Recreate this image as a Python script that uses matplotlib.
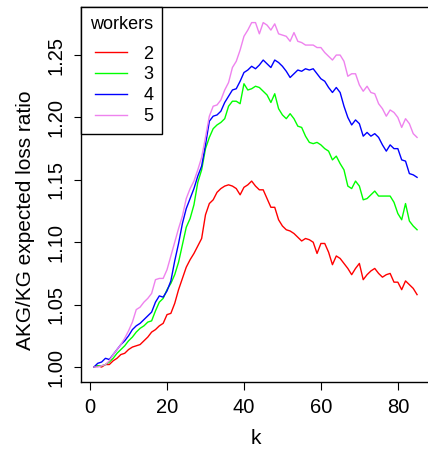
import matplotlib
matplotlib.use("Agg")
import matplotlib.pyplot as plt
import numpy as np

plt.rcParams['font.family'] = ['Liberation Sans', 'DejaVu Sans']

k = list(range(1, 86))

w2 = [1.000, 1.001, 1.000, 1.002, 1.002, 1.005, 1.007, 1.010, 1.011, 1.014,
      1.016, 1.017, 1.018, 1.021, 1.024, 1.028, 1.030, 1.033, 1.035, 1.042,
      1.043, 1.051, 1.062, 1.071, 1.080, 1.086, 1.091, 1.097, 1.103, 1.122,
      1.131, 1.134, 1.140, 1.143, 1.145, 1.146, 1.145, 1.143, 1.138, 1.144,
      1.146, 1.149, 1.145, 1.142, 1.142, 1.135, 1.128, 1.128, 1.118, 1.113,
      1.110, 1.109, 1.107, 1.104, 1.101, 1.103, 1.102, 1.100, 1.091, 1.099,
      1.099, 1.092, 1.082, 1.089, 1.087, 1.083, 1.079, 1.074, 1.079, 1.083,
      1.070, 1.074, 1.077, 1.079, 1.075, 1.072, 1.074, 1.075, 1.068, 1.068,
      1.062, 1.069, 1.066, 1.063, 1.058]

w3 = [1.000, 1.001, 1.001, 1.002, 1.004, 1.007, 1.011, 1.014, 1.017, 1.021,
      1.024, 1.028, 1.031, 1.033, 1.036, 1.037, 1.045, 1.052, 1.055, 1.062,
      1.067, 1.074, 1.084, 1.098, 1.112, 1.119, 1.130, 1.148, 1.158, 1.175,
      1.184, 1.191, 1.194, 1.196, 1.199, 1.209, 1.213, 1.213, 1.211, 1.227,
      1.222, 1.223, 1.225, 1.224, 1.221, 1.218, 1.212, 1.219, 1.207, 1.202,
      1.199, 1.203, 1.199, 1.193, 1.192, 1.185, 1.180, 1.179, 1.180, 1.178,
      1.175, 1.173, 1.166, 1.169, 1.163, 1.158, 1.145, 1.143, 1.149, 1.145,
      1.134, 1.135, 1.138, 1.141, 1.137, 1.137, 1.137, 1.137, 1.132, 1.123,
      1.118, 1.131, 1.117, 1.113, 1.110]

w4 = [1.000, 1.003, 1.004, 1.007, 1.006, 1.010, 1.014, 1.018, 1.021, 1.025,
      1.030, 1.033, 1.035, 1.038, 1.041, 1.044, 1.052, 1.057, 1.056, 1.061,
      1.069, 1.085, 1.099, 1.115, 1.127, 1.135, 1.143, 1.153, 1.161, 1.178,
      1.197, 1.201, 1.202, 1.205, 1.212, 1.217, 1.222, 1.223, 1.229, 1.236,
      1.238, 1.241, 1.239, 1.242, 1.246, 1.243, 1.240, 1.246, 1.244, 1.241,
      1.237, 1.232, 1.235, 1.238, 1.237, 1.239, 1.238, 1.239, 1.235, 1.231,
      1.229, 1.224, 1.220, 1.224, 1.220, 1.209, 1.200, 1.194, 1.198, 1.195,
      1.185, 1.188, 1.185, 1.187, 1.184, 1.178, 1.173, 1.178, 1.175, 1.175,
      1.166, 1.165, 1.155, 1.154, 1.152]

w5 = [1.000, 1.000, 1.001, 1.002, 1.005, 1.010, 1.014, 1.018, 1.023, 1.029,
      1.036, 1.046, 1.048, 1.052, 1.055, 1.059, 1.070, 1.071, 1.071, 1.078,
      1.089, 1.100, 1.111, 1.121, 1.135, 1.143, 1.149, 1.158, 1.168, 1.184,
      1.201, 1.209, 1.210, 1.214, 1.222, 1.228, 1.240, 1.245, 1.254, 1.265,
      1.270, 1.276, 1.276, 1.267, 1.276, 1.274, 1.270, 1.275, 1.267, 1.266,
      1.265, 1.261, 1.268, 1.261, 1.260, 1.258, 1.258, 1.258, 1.256, 1.256,
      1.252, 1.249, 1.246, 1.250, 1.250, 1.245, 1.233, 1.235, 1.235, 1.226,
      1.221, 1.225, 1.220, 1.219, 1.211, 1.207, 1.201, 1.206, 1.204, 1.200,
      1.192, 1.199, 1.195, 1.187, 1.184]

series_labels = ["2", "3", "4", "5"]
series_colors = ["#FF0000", "#00FF00", "#0000FF", "#EE82EE"]
xticks = [0, 20, 40, 60, 80]
yticks = [1.00, 1.05, 1.10, 1.15, 1.20, 1.25]

W, H = 428, 450
fig = plt.figure(figsize=(W / 100, H / 100), dpi=100)
ax = fig.add_axes([81 / W, 1 - 382 / H, 349 / W, 375 / H])

for vals, lab, col in zip([w2, w3, w4, w5], series_labels, series_colors):
    ax.plot(k, vals, color=col, lw=1.0, label=lab)

ax.set_xlim(-2.36, 88.36)
ax.set_ylim(0.988, 1.2885)
ax.set_xticks(xticks)
ax.set_xticklabels([str(t) for t in xticks])
ax.set_yticks(yticks)
ax.set_yticklabels([f"{t:.2f}" for t in yticks], rotation=90, va='center')
ax.tick_params(direction='out', length=5.4, width=0.8, labelsize=14.5, pad=6)
for s in ax.spines.values():
    s.set_linewidth(1.0)

ax.set_xlabel("k", fontsize=15, labelpad=9)
ax.set_ylabel("AKG/KG expected loss ratio", fontsize=15, labelpad=8)
ax.yaxis.label.set_y(0.43)

leg = ax.legend(title="workers", loc='upper left', bbox_to_anchor=(0, 1),
                borderaxespad=0, fontsize=13, title_fontsize=13,
                frameon=True, fancybox=False, edgecolor='black',
                handlelength=1.72, handletextpad=0.92, labelspacing=0.22,
                borderpad=0.5, alignment='right')
leg.get_frame().set_linewidth(1.0)
leg.get_frame().set_alpha(1)
leg._legend_box.sep = 9

fig.savefig("out.png", dpi=100)
